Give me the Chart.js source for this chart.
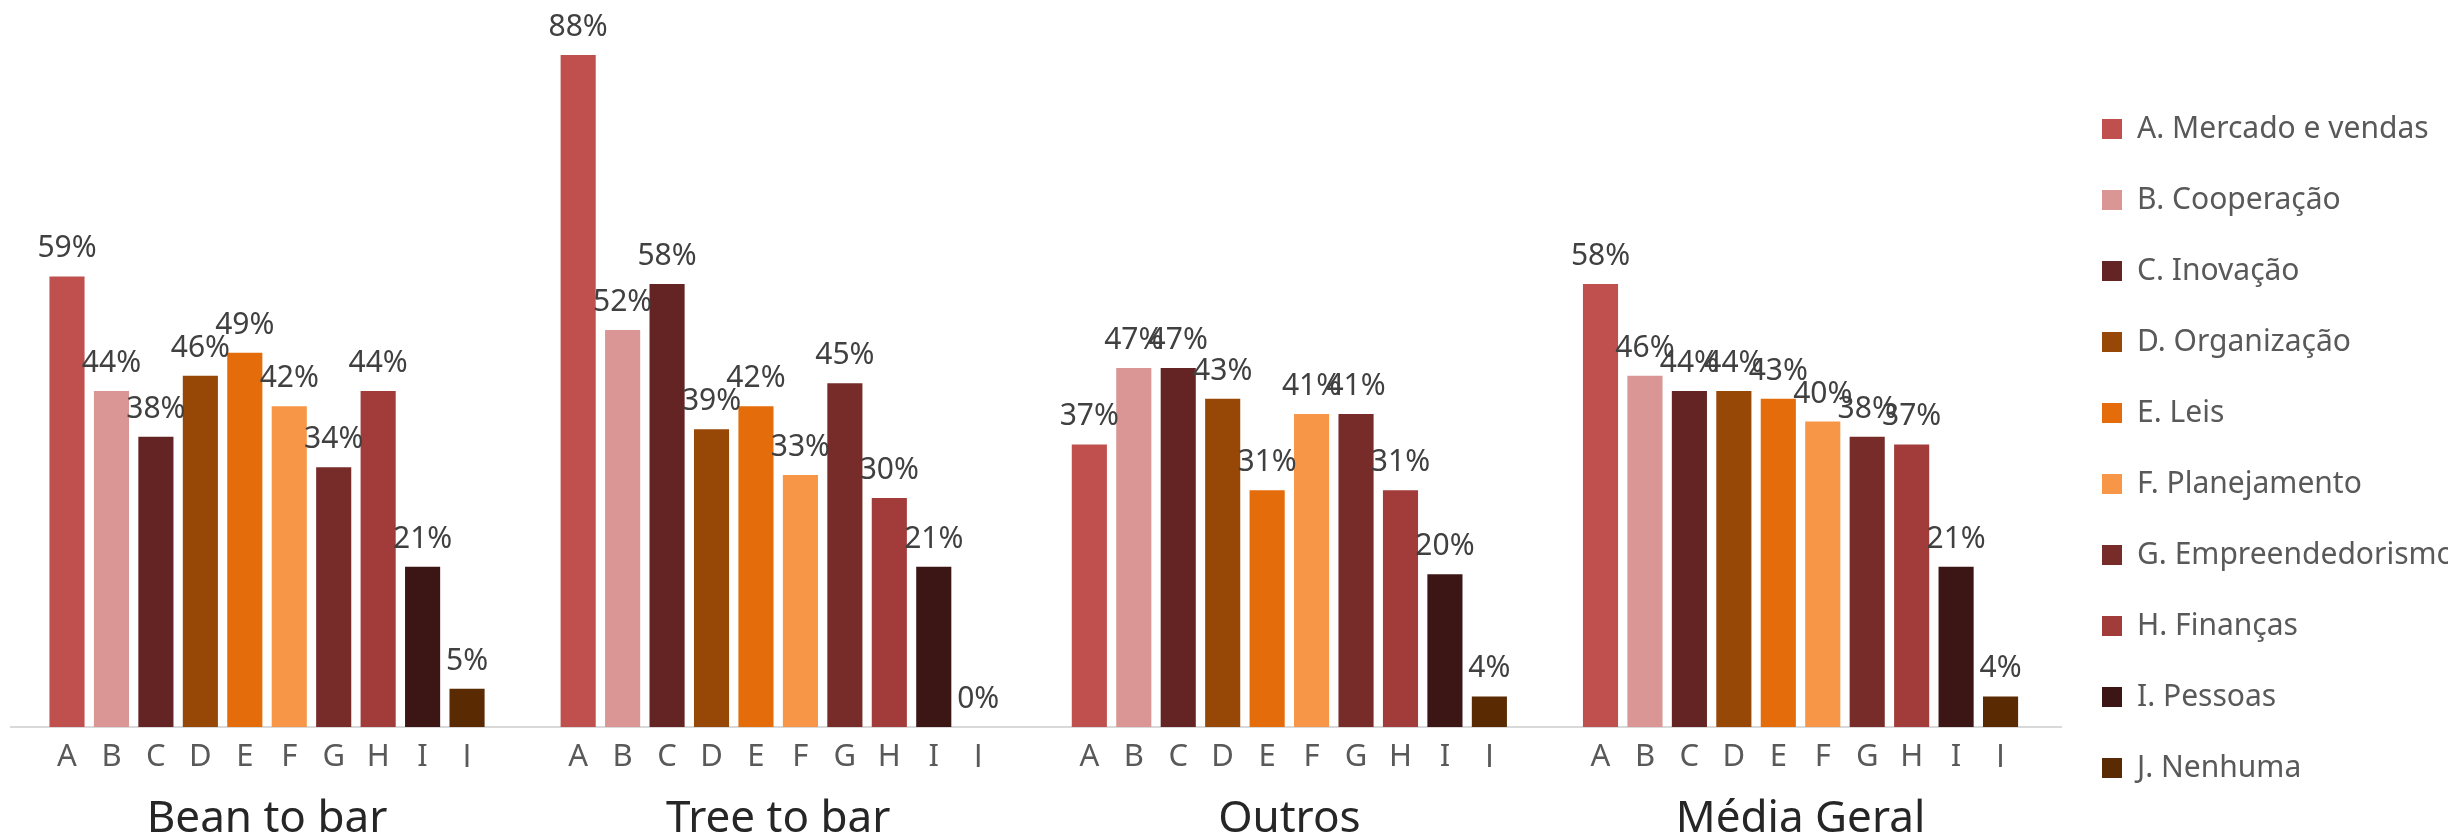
<!DOCTYPE html>
<html>
<head>
<meta charset="utf-8">
<title>Competências por grupo</title>
<script src="https://cdn.jsdelivr.net/npm/chart.js@4.4.1/dist/chart.umd.min.js"></script>
<style>
    html, body { margin: 0; padding: 0; background: #ffffff; }
    #wrap { width: 2448px; height: 834px; }
</style>
</head>
<body>
<div id="wrap"><canvas id="myChart" width="2448" height="834"></canvas></div>
<script>
const letters = ["A", "B", "C", "D", "E", "F", "G", "H", "I", "J"];
const categories = [
    "A. Mercado e vendas",
    "B. Cooperação",
    "C. Inovação",
    "D. Organização",
    "E. Leis",
    "F. Planejamento",
    "G. Empreendedorismo",
    "H. Finanças",
    "I. Pessoas",
    "J. Nenhuma",
];
const groups = ["Bean to bar", "Tree to bar", "Outros", "Média Geral"];

const beanToBar = [59, 44, 38, 46, 49, 42, 34, 44, 21, 5];
const treeToBar = [88, 52, 58, 39, 42, 33, 45, 30, 21, 0];
const outros = [37, 47, 47, 43, 31, 41, 41, 31, 20, 4];
const mediaGeral = [58, 46, 44, 44, 43, 40, 38, 37, 21, 4];

const colors = [
    "#C0504D", "#D99694", "#632423", "#974706", "#E46C0A",
    "#F79646", "#772C2A", "#A23C3A", "#3C1615", "#5A2B02",
];

const FONT = "'Noto Sans', 'Open Sans', sans-serif";
const groupValues = [beanToBar, treeToBar, outros, mediaGeral];

// each group takes 10 slots plus a gap of 1.5 slots
const groupStep = 11.5;
function slot(g, i) {
    return g * groupStep + i;
}

const letterTicks = [];
const groupTicks = [];
groups.forEach((_, g) => {
    letters.forEach((_, i) => letterTicks.push(slot(g, i)));
    groupTicks.push(slot(g, (letters.length - 1) / 2));
});

const xMin = -1.26;
const xMax = slot(groups.length - 1, letters.length - 1) + 1.36;

const datasets = categories.map((label, i) => ({
    label: label,
    backgroundColor: colors[i],
    borderWidth: 0,
    grouped: false,
    barPercentage: 1,
    categoryPercentage: 0.79,
    data: groupValues.map((values, g) => ({ x: slot(g, i), y: values[i] })),
}));

const valueLabels = {
    id: "valueLabels",
    afterDatasetsDraw(chart) {
        const ctx = chart.ctx;
        ctx.save();
        ctx.font = "30px " + FONT;
        ctx.fillStyle = "#404040";
        ctx.textAlign = "center";
        ctx.textBaseline = "alphabetic";
        chart.data.datasets.forEach((dataset, i) => {
            chart.getDatasetMeta(i).data.forEach((bar, j) => {
                ctx.fillText(dataset.data[j].y + "%", bar.x, bar.y - 19);
            });
        });
        ctx.restore();
    },
};

const config = {
    type: "bar",
    data: { datasets: datasets },
    options: {
        responsive: false,
        animation: false,
        events: [],
        layout: { padding: { left: 11, right: 0, top: 0, bottom: 0 } },
        scales: {
            x: {
                type: "linear",
                position: "bottom",
                offset: false,
                min: xMin,
                max: xMax,
                grid: { display: false, drawTicks: false, offset: false },
                border: { display: true, color: "#D9D9D9", width: 2 },
                afterBuildTicks: (axis) => {
                    axis.ticks = letterTicks.map((v) => ({ value: v }));
                },
                afterFit: (axis) => {
                    axis.height = 40;
                },
                ticks: {
                    autoSkip: false,
                    maxRotation: 0,
                    padding: 12,
                    color: "#595959",
                    font: { family: FONT, size: 31 },
                    callback: (value, index) => letters[index % letters.length],
                },
            },
            groupAxis: {
                type: "linear",
                axis: "x",
                position: "bottom",
                weight: 1,
                offset: false,
                min: xMin,
                max: xMax,
                grid: { display: false, drawTicks: false, offset: false },
                border: { display: false },
                afterBuildTicks: (axis) => {
                    axis.ticks = groupTicks.map((v) => ({ value: v }));
                },
                afterFit: (axis) => {
                    axis.height = 67;
                },
                ticks: {
                    autoSkip: false,
                    maxRotation: 0,
                    padding: 26,
                    color: "#262626",
                    font: { family: FONT, size: 44 },
                    callback: (value, index) => groups[index],
                },
            },
            y: {
                display: false,
                min: 0,
                max: 95.2,
            },
        },
        plugins: {
            tooltip: { enabled: false },
            legend: {
                position: "right",
                maxWidth: 387,
                title: {
                    display: true,
                    text: "",
                    font: { size: 10, lineHeight: 1 },
                    padding: { top: 0, bottom: 53 },
                },
                labels: {
                    boxWidth: 20,
                    boxHeight: 20,
                    padding: 41,
                    color: "#595959",
                    font: { family: FONT, size: 30 },
                },
            },
        },
    },
    plugins: [valueLabels],
};

new Chart(document.getElementById("myChart"), config);
</script>
</body>
</html>
